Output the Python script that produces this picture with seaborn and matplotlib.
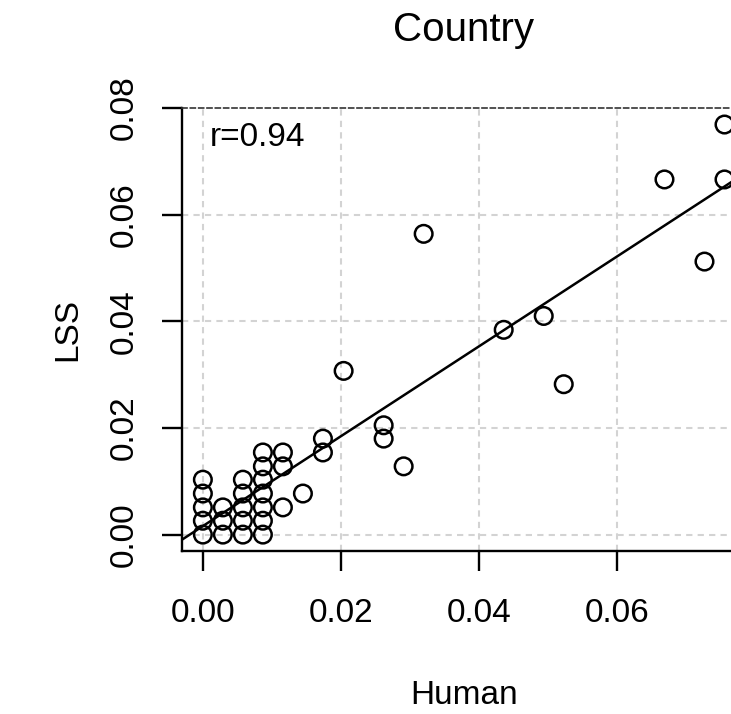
import numpy as np
import pandas as pd
import seaborn as sns
import matplotlib.pyplot as plt

# values
human = [0.0, 0.0, 0.0, 0.0, 0.0,
         0.0029, 0.0029, 0.0029,
         0.0058, 0.0058, 0.0058, 0.0058, 0.0058,
         0.0087, 0.0087, 0.0087, 0.0087, 0.0087, 0.0087, 0.0087,
         0.0116, 0.0116, 0.0116,
         0.0145, 0.0174, 0.0174, 0.0204, 0.0262, 0.0262, 0.0291,
         0.0320, 0.0436, 0.0494, 0.0523, 0.0669, 0.0727, 0.0756, 0.0756]
lss = [0.0, 0.0026, 0.0051, 0.0077, 0.0103,
       0.0, 0.0026, 0.0051,
       0.0, 0.0026, 0.0051, 0.0077, 0.0103,
       0.0, 0.0026, 0.0051, 0.0077, 0.0103, 0.0128, 0.0154,
       0.0051, 0.0128, 0.0154,
       0.0077, 0.0180, 0.0154, 0.0307, 0.0205, 0.0180, 0.0128,
       0.0564, 0.0384, 0.0410, 0.0282, 0.0666, 0.0512, 0.0666, 0.0769]
r_label = 'r=0.94'
x_ticks = [0.00, 0.02, 0.04, 0.06]
y_ticks = [0.00, 0.02, 0.04, 0.06, 0.08]

df = pd.DataFrame({'Human': human, 'LSS': lss})

sns.set_style('white')
plt.rcParams['font.family'] = ['Liberation Sans', 'DejaVu Sans']
plt.rcParams.update({'text.color': 'black', 'axes.labelcolor': 'black',
                     'xtick.color': 'black', 'ytick.color': 'black'})

W, H = 731, 714
fig = plt.figure(figsize=(W / 100, H / 100), dpi=100)

# R style axis limits: data range padded by 4%
def padded(v):
    lo, hi = min(v), max(v)
    p = 0.04 * (hi - lo)
    return lo - p, hi + p

xlim = padded(human)
ylim = padded(lss)

left, top, bottom = 182, 108, 551
px_per_x = 6900
width = (xlim[1] - xlim[0]) * px_per_x
ax = fig.add_axes([left / W, (H - bottom) / H, width / W, (bottom - top) / H])
ax.set_xlim(xlim)
ax.set_ylim(ylim)

grid_kw = dict(color='#d3d3d3', lw=1.5, dashes=(3, 2.5), zorder=0)
for t in x_ticks:
    ax.axvline(t, **grid_kw)
for t in y_ticks[:-1]:
    ax.axhline(t, **grid_kw)

sns.scatterplot(data=df, x='Human', y='LSS', ax=ax, s=160,
                facecolor='none', edgecolor='black', linewidth=1.8, zorder=3)
sns.regplot(data=df, x='Human', y='LSS', ax=ax, scatter=False, ci=None,
            truncate=False, line_kws=dict(color='black', lw=1.8, zorder=4))
ax.set_xlim(xlim)
ax.set_ylim(ylim)

ax.text(0.0010, 0.0745, r_label, fontsize=24, va='center', ha='left')

ax.set_xticks(x_ticks)
ax.set_xticklabels([f'{t:.2f}' for t in x_ticks], fontsize=24)
ax.set_yticks(y_ticks)
ax.set_yticklabels([f'{t:.2f}' for t in y_ticks], fontsize=24,
                   rotation=90, va='center')
ax.tick_params(axis='both', direction='out', length=14.5, width=1.7,
               bottom=True, left=True)
ax.tick_params(axis='x', pad=19)
ax.tick_params(axis='y', pad=16)

for side in ['left', 'bottom']:
    ax.spines[side].set_color('black')
    ax.spines[side].set_linewidth(1.7)
ax.spines['right'].set_visible(False)
ax.spines['top'].set_color('#333333')
ax.spines['top'].set_linewidth(1.2)
ax.spines['top'].set_linestyle((0, (3, 2)))

ax.set_xlabel('Human', fontsize=24, va='center')
ax.set_ylabel('LSS', fontsize=24, va='center')
ax.xaxis.set_label_coords(0.5, (bottom - 695) / (bottom - top))
ax.yaxis.set_label_coords((68 - left) / width, 0.5)
fig.text((left + width / 2) / W, 1 - 30 / H, 'Country', fontsize=29,
         ha='center', va='center')

fig.savefig('out.png', dpi=100)
